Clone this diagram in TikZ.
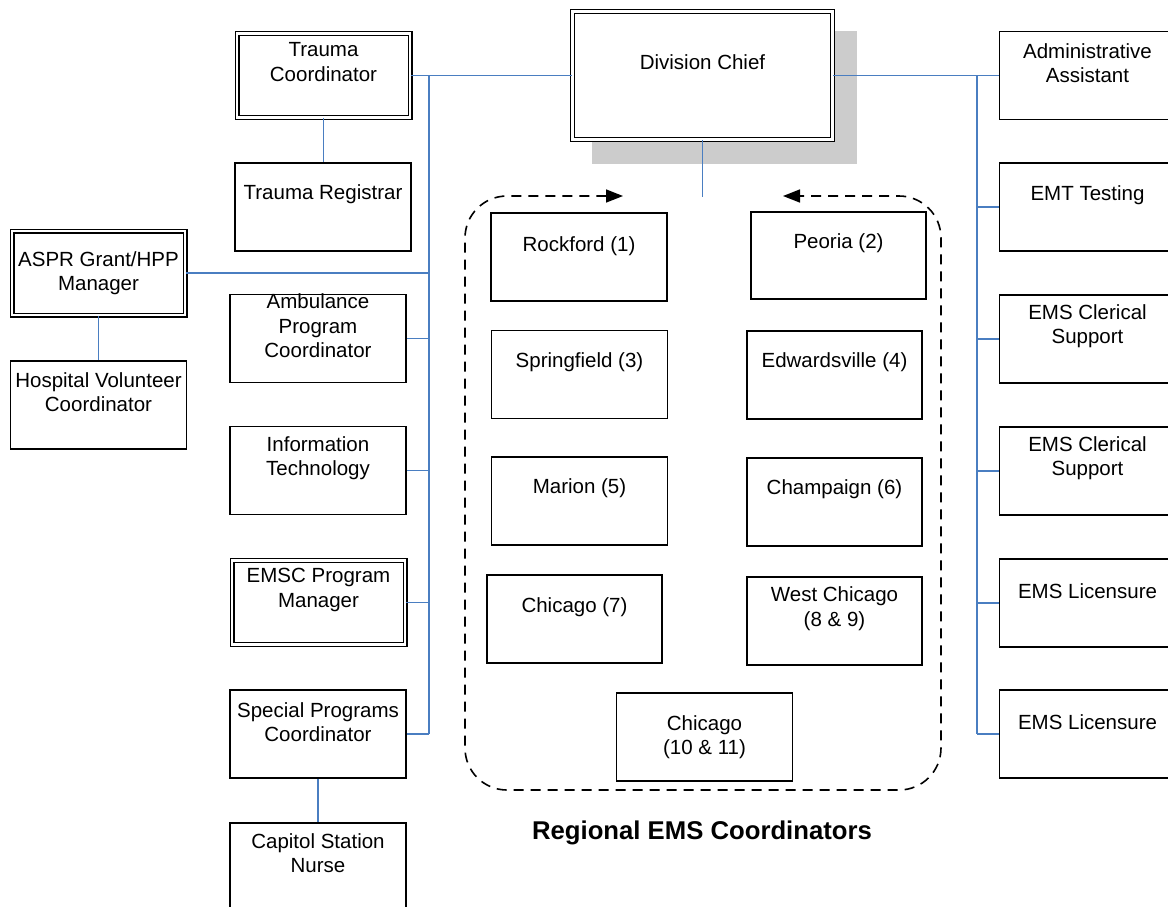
\documentclass[tikz,border=0pt]{standalone}
\usepackage{fontspec}
\setmainfont{Liberation Sans}
\usetikzlibrary{arrows.meta}
\definecolor{linkblue}{RGB}{74,126,193}
\definecolor{shadowgray}{RGB}{204,204,204}
\tikzset{fltip/.tip={Triangle[length=17pt,width=13pt]}}
\begin{document}
\begin{tikzpicture}[x=1pt,y=-1pt,
  box/.style={draw=black, line width=1.8pt, fill=white, minimum width=176pt, minimum height=88pt, inner sep=0pt},
  dbox/.style={box, double=white, double distance=2.2pt, line width=1.4pt, minimum width=173pt, minimum height=84pt},
  txt/.style={align=center, font=\fontsize{20.5}{24.5}\selectfont, inner sep=0pt},
  link/.style={draw=linkblue, line width=1.9pt},
  frame/.style={line width=1.6pt, dash pattern=on 10pt off 7pt, rounded corners=42pt}
  ]
\useasboundingbox (0,0) rectangle (1168,906);
\clip (0,0) rectangle (1168,906);

% shadow of division chief
\fill[shadowgray] (592,31) rectangle (857,164);

% left column
\node[dbox] (tc) at (323.5,75.5) {};
\node[txt] (tct) at (323.5,62) {Trauma\\Coordinator};
\node[box] (tr) at (323,207) {};
\node[txt] (trt) at (323,194) {Trauma Registrar};
\node[box] (amb) at (318,338.5) {};
\node[txt] (ambt) at (318,326) {Ambulance\\Program\\Coordinator};
\node[box] (it) at (318,470.5) {};
\node[txt] (itt) at (318,458) {Information\\Technology};
\node[dbox] (emsc) at (318.5,602.5) {};
\node[txt] (emsct) at (318.5,590) {EMSC Program\\Manager};
\node[box] (spc) at (318,734) {};
\node[txt] (spct) at (318,722) {Special Programs\\Coordinator};
\node[box] (csn) at (318,867) {};
\node[txt] (csnt) at (318,853) {Capitol Station\\Nurse};

% far left
\node[dbox] (aspr) at (98.5,273) {};
\node[txt] (asprt) at (98.5,273) {ASPR Grant/HPP\\Manager};
\node[box] (hvc) at (98.5,405) {};
\node[txt] (hvct) at (98.5,392) {Hospital Volunteer\\Coordinator};

% division chief
\node[dbox, minimum width=260pt, minimum height=128pt] (dc) at (702.5,75.5) {};
\node[txt] (dct) at (702.5,62) {Division Chief};

% right column
\node[box] (adm) at (1087.5,75.5) {};
\node[txt] (admt) at (1087.5,63) {Administrative\\Assistant};
\node[box] (emt) at (1087.5,207) {};
\node[txt] (emtt) at (1087.5,195) {EMT Testing};
\node[box] (ecsa) at (1087.5,339) {};
\node[txt] (ecsat) at (1087.5,326) {EMS Clerical\\Support};
\node[box] (ecsb) at (1087.5,471) {};
\node[txt] (ecsbt) at (1087.5,458) {EMS Clerical\\Support};
\node[box] (lica) at (1087.5,603) {};
\node[txt] (licat) at (1087.5,591.5) {EMS Licensure};
\node[box] (licb) at (1087.5,734) {};
\node[txt] (licbt) at (1087.5,722) {EMS Licensure};

% regions
\node[box] (r1) at (579,257) {};
\node[txt] (r1t) at (579,246) {Rockford (1)};
\node[box, minimum width=175pt, minimum height=87pt] (r2) at (838.5,255.5) {};
\node[txt] (r2t) at (838.5,243) {Peoria (2)};
\node[box] (r3) at (579.5,374.5) {};
\node[txt] (r3t) at (579.5,362) {Springfield (3)};
\node[box, minimum width=175pt] (r4) at (834.5,375) {};
\node[txt] (r4t) at (834.5,362) {Edwardsville (4)};
\node[box] (r5) at (579.5,501) {};
\node[txt] (r5t) at (579.5,488) {Marion (5)};
\node[box, minimum width=175pt] (r6) at (834.5,502) {};
\node[txt] (r6t) at (834.5,489) {Champaign (6)};
\node[box, minimum width=175pt] (r7) at (574.5,619) {};
\node[txt] (r7t) at (574.5,607) {Chicago (7)};
\node[box, minimum width=175pt] (r8) at (834.5,621) {};
\node[txt] (r8t) at (834.5,608.5) {West Chicago\\(8 \& 9)};
\node[box] (r10) at (704.5,737) {};
\node[txt] (r10t) at (704.5,737) {Chicago\\(10 \& 11)};

\node[font=\bfseries\fontsize{25.7}{30}\selectfont, inner sep=0pt] (title) at (702,833) {Regional EMS Coordinators};

% connectors
\coordinate (bl1) at (429,75.5);
\coordinate (bl2) at (429,734);
\coordinate (br1) at (977,75.5);
\coordinate (br2) at (977,734);
\coordinate (dcend) at (702.5,197);

\draw[link] (tc.east) -- (dc.west);
\draw[link] (bl1) -- (bl2);
\draw[link] (aspr.east) -- (aspr.east -| bl1);
\draw[link] (amb.east) -- (amb.east -| bl1);
\draw[link] (it.east) -- (it.east -| bl1);
\draw[link] (emsc.east) -- (emsc.east -| bl1);
\draw[link] (spc.east) -- (spc.east -| bl1);
\draw[link] (tc.south) -- (tc.south |- tr.north);
\draw[link] (aspr.south) -- (hvc.north);
\draw[link] (spc.south) -- (csn.north);

\draw[link] (dc.east) -- (adm.west);
\draw[link] (br1) -- (br2);
\draw[link] (emt.west) -- (emt.west -| br1);
\draw[link] (ecsa.west) -- (ecsa.west -| br1);
\draw[link] (ecsb.west) -- (ecsb.west -| br1);
\draw[link] (lica.west) -- (lica.west -| br1);
\draw[link] (licb.west) -- (licb.west -| br1);

\draw[link] (dc.south) -- (dcend);

% dashed frame with arrows
\coordinate (fa) at (623,196);
\coordinate (fb) at (783,196);
\draw[frame, fltip-fltip] (fa) -- (465,196) -- (465,790) -- (941,790) -- (941,196) -- (fb);
\end{tikzpicture}
\end{document}
